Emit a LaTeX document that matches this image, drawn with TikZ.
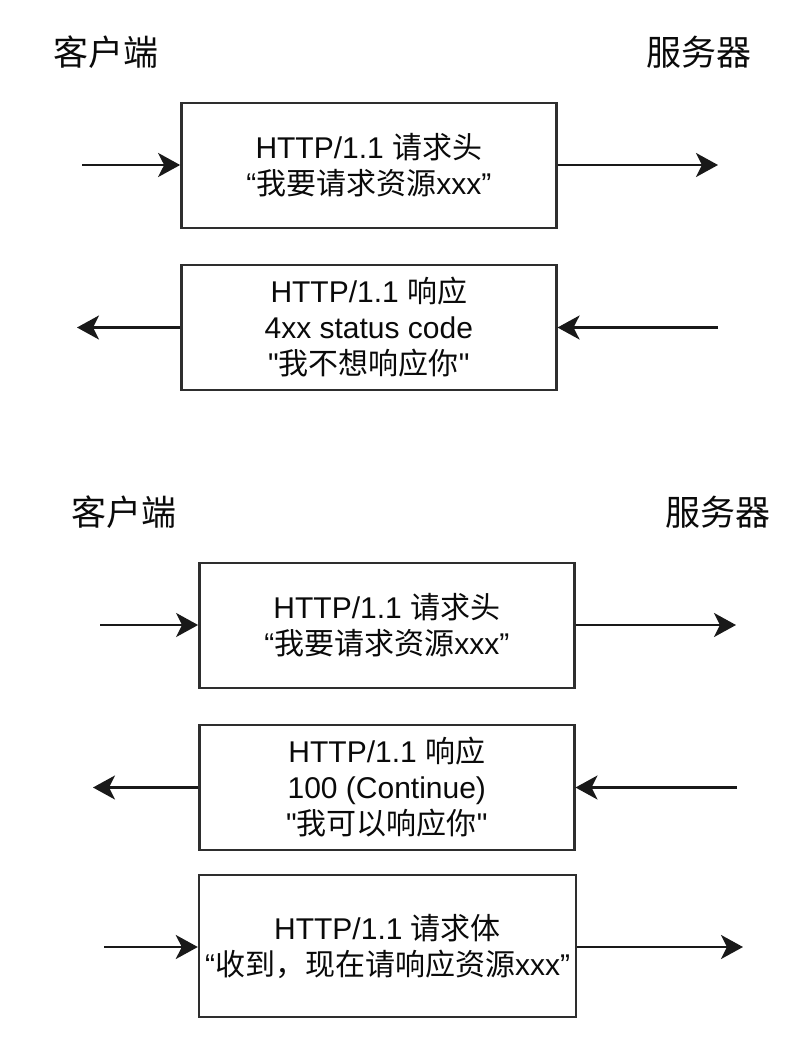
\documentclass[tikz,border=0pt]{standalone}
\usepackage{fontspec}
\setmainfont{Liberation Sans}[Ligatures=TeXOff]
\newfontfamily\cjk{Noto Sans CJK SC}
\usetikzlibrary{arrows.meta}
\definecolor{linecol}{HTML}{2E2E2E}
\definecolor{txtcol}{HTML}{0A0A0A}
\tikzset{
  msgbox/.style={draw=linecol, line width=2.4pt, minimum width=375pt, minimum height=125pt,
    inner sep=0pt, align=center, text=txtcol, font=\fontsize{30}{36}\selectfont},
  sidelbl/.style={inner sep=0pt, text=txtcol, font=\fontsize{35}{40}\selectfont\cjk},
  flow/.style={draw=black!90, line width=2.6pt, -{Stealth[length=22pt, width=24pt, inset=6pt]}}
}
\begin{document}
\begin{tikzpicture}[x=1pt, y=-1pt]
\useasboundingbox (0,0) rectangle (808,1060);
% top section
\node[sidelbl] (c1) at (106,52) {客户端};
\node[sidelbl] (s1) at (699,52) {服务器};
\node[msgbox] (b1) at (368.85,165.35) {HTTP/1.1 {\cjk 请求头}\\“{\cjk 我要请求资源}xxx”};
\node[msgbox] (b2) at (368.85,327.5) {HTTP/1.1 {\cjk 响应}\\4xx status code\\"{\cjk 我不想响应你}"};
\coordinate (p1) at (82,165);
\coordinate (q1) at (718,165);
\coordinate (p2) at (718,327.5);
\coordinate (q2) at (77,327.5);
\draw[flow] (p1) -- (b1.west |- p1);
\draw[flow] (b1.east |- q1) -- (q1);
\draw[flow] (p2) -- (b2.east |- p2);
\draw[flow] (b2.west |- q2) -- (q2);
% bottom section
\node[sidelbl] (c2) at (124,512) {客户端};
\node[sidelbl] (s2) at (718,512) {服务器};
\node[msgbox] (b3) at (386.8,625.2) {HTTP/1.1 {\cjk 请求头}\\“{\cjk 我要请求资源}xxx”};
\node[msgbox] (b4) at (386.8,787.5) {HTTP/1.1 {\cjk 响应}\\100 (Continue)\\"{\cjk 我可以响应你}"};
\node[msgbox, minimum width=377pt, minimum height=142pt] (b5) at (387.5,946) {HTTP/1.1 {\cjk 请求体}\\“{\cjk 收到，现在请响应资源}xxx”};
\coordinate (p3) at (100,625);
\coordinate (q3) at (736,625);
\coordinate (p4) at (737,787.5);
\coordinate (q4) at (93,787.5);
\coordinate (p5) at (104,947);
\coordinate (q5) at (743,947);
\draw[flow] (p3) -- (b3.west |- p3);
\draw[flow] (b3.east |- q3) -- (q3);
\draw[flow] (p4) -- (b4.east |- p4);
\draw[flow] (b4.west |- q4) -- (q4);
\draw[flow] (p5) -- (b5.west |- p5);
\draw[flow] (b5.east |- q5) -- (q5);
\end{tikzpicture}
\end{document}
